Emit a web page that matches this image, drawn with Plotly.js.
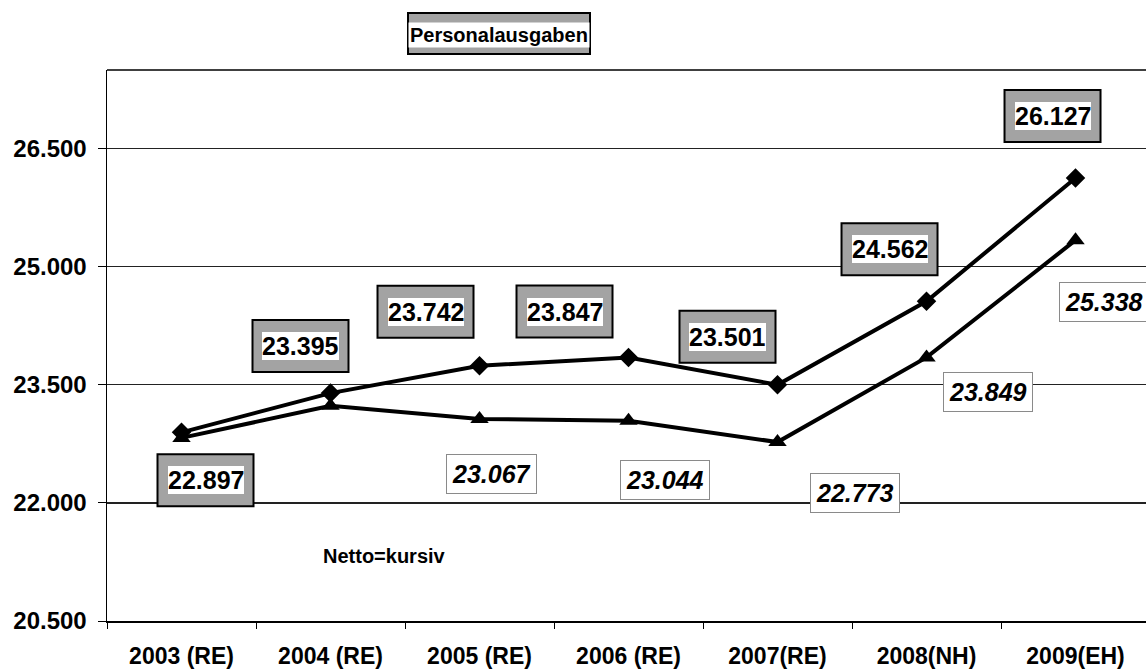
<!DOCTYPE html>
<html>
<head>
<meta charset="utf-8">
<script src="https://cdn.plot.ly/plotly-3.0.1.min.js"></script>
<style>
  html, body { margin: 0; padding: 0; background: #fff; overflow: hidden; }
  #chart { width: 1146px; height: 671px; }
</style>
</head>
<body>
<div id="chart"></div>
<script>
// ---- data ----
const categories = ['2003 (RE)', '2004 (RE)', '2005 (RE)', '2006 (RE)', '2007(RE)', '2008(NH)', '2009(EH)'];
const brutto = [22897, 23395, 23742, 23847, 23501, 24562, 26127];
const netto = [22826, 23233, 23067, 23044, 22773, 23849, 25338];
const nettoLabeled = [false, false, true, true, true, true, true];
const yTickVals = [20500, 22000, 23500, 25000, 26500];
const titleText = 'Personalausgaben';
const noteText = 'Netto=kursiv';

// ---- label placement (pixel offsets from the point) ----
const bruttoOffsets = [[24, 48], [-30, -47], [-54, -54], [-64, -46], [-50, -48], [-37, -52], [-23, -62]];
const nettoOffsets = [null, null, [12, 55], [36, 59], [77, 51], [61, 35], [28, 62]];

const fmt = v => (v / 1000).toFixed(3);
const FONT = 'Liberation Sans, Arial, sans-serif';
const L = 107, R = 0, T = 70, B = 50, W = 1146, H = 671;
const px2x = p => (p - L) / (W - L - R);
const px2y = p => (H - p - B) / (H - T - B);

const traces = [
  {
    x: categories, y: brutto, type: 'scatter', mode: 'lines+markers', name: 'Brutto',
    line: {color: '#000', width: 4},
    marker: {symbol: 'diamond', size: 15, color: '#000'},
    hoverinfo: 'x+y'
  },
  {
    x: categories, y: netto, type: 'scatter', mode: 'lines+markers', name: 'Netto',
    line: {color: '#000', width: 4},
    marker: {symbol: 'triangle-up', size: 16, color: '#000'},
    hoverinfo: 'x+y'
  }
];

const annotations = [];
const shapes = [
  // top frame line of the plot area
  {type: 'line', xref: 'paper', yref: 'paper', x0: 0, x1: 1, y0: 1, y1: 1,
   line: {color: '#000', width: 1.5}}
];

// framed labels (brutto): grey frame as shape, white text box as annotation
brutto.forEach((v, i) => {
  const [dx, dy] = bruttoOffsets[i];
  shapes.push({
    type: 'rect', xref: 'x', yref: 'y', layer: 'above',
    xsizemode: 'pixel', ysizemode: 'pixel', xanchor: i, yanchor: v,
    x0: dx - 48, x1: dx + 48, y0: -dy - 26, y1: -dy + 26,
    fillcolor: '#a3a3a3', line: {color: '#000', width: 2}
  });
  annotations.push({
    x: categories[i], y: v, xref: 'x', yref: 'y', showarrow: false,
    xanchor: 'center', yanchor: 'middle',
    xshift: dx, yshift: -dy, text: fmt(v),
    font: {family: FONT, size: 25, color: '#000', weight: 'bold'},
    bgcolor: '#fff', borderwidth: 0, borderpad: 0
  });
});
// italic labels (netto)
netto.forEach((v, i) => {
  if (!nettoLabeled[i]) return;
  const [dx, dy] = nettoOffsets[i];
  annotations.push({
    x: categories[i], y: v, xref: 'x', yref: 'y', showarrow: false,
    xanchor: 'center', yanchor: 'middle',
    xshift: dx, yshift: -dy, text: fmt(v),
    font: {family: FONT, size: 25, color: '#000', weight: 'bold', style: 'italic'},
    bgcolor: '#fff', bordercolor: '#8a8a8a', borderwidth: 1, borderpad: 5
  });
});
// title box
shapes.push({
  type: 'rect', xref: 'paper', yref: 'paper', layer: 'above',
  x0: px2x(408), x1: px2x(590), y0: px2y(54), y1: px2y(13),
  fillcolor: '#a3a3a3', line: {color: '#000', width: 2}
});
annotations.push({
  x: px2x(499), y: px2y(35), xref: 'paper', yref: 'paper', showarrow: false,
  xanchor: 'center', yanchor: 'middle', text: titleText,
  font: {family: FONT, size: 20, color: '#000', weight: 'bold'},
  bgcolor: '#fff', borderpad: 1
});
// note
annotations.push({
  x: px2x(384), y: px2y(556), xref: 'paper', yref: 'paper', showarrow: false,
  xanchor: 'center', yanchor: 'middle', text: noteText,
  font: {family: FONT, size: 20, color: '#000', weight: 'bold'}
});

const layout = {
  width: W, height: H,
  margin: {l: L, r: R, t: T, b: B, pad: 0},
  paper_bgcolor: '#fff', plot_bgcolor: '#fff',
  separators: ',.',
  showlegend: false,
  font: {family: FONT, color: '#000'},
  xaxis: {
    type: 'category', range: [-0.5, 6.473],
    showline: true, linecolor: '#000', linewidth: 1.5,
    showgrid: false, zeroline: false,
    ticks: 'outside', tickson: 'boundaries', ticklen: 6, tickcolor: '#000', tickwidth: 1,
    tickfont: {family: FONT, size: 23, color: '#000', weight: 'bold'},
    ticklabelstandoff: 14,
    fixedrange: true
  },
  yaxis: {
    range: [20500, 27500], tickvals: yTickVals, tickformat: ',d',
    showline: true, linecolor: '#000', linewidth: 1.5,
    showgrid: true, gridcolor: '#222', gridwidth: 1.2, zeroline: false,
    ticks: 'outside', ticklen: 8, tickcolor: '#000', tickwidth: 1,
    tickfont: {family: FONT, size: 24, color: '#000', weight: 'bold'},
    ticklabelstandoff: 6,
    fixedrange: true
  },
  shapes: shapes,
  annotations: annotations
};

Plotly.newPlot('chart', traces, layout, {displayModeBar: false, staticPlot: true});
</script>
</body>
</html>
